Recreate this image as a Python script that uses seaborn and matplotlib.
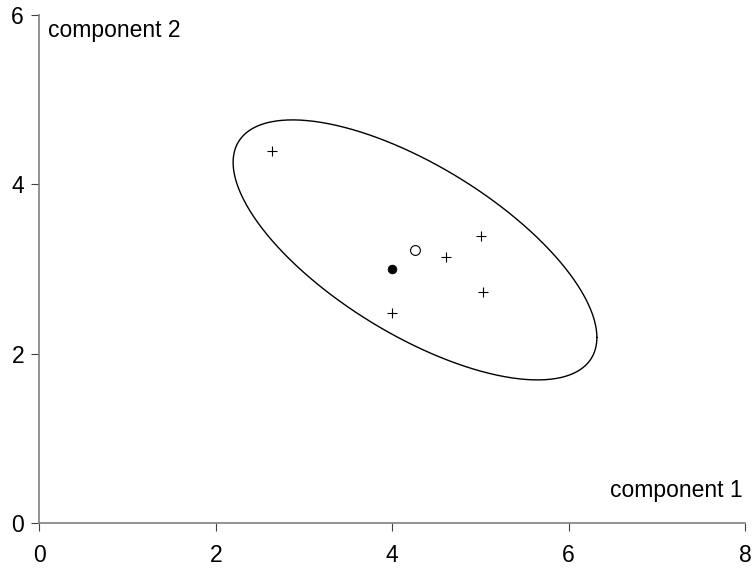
import numpy as np
import pandas as pd
import matplotlib
matplotlib.use("Agg")
import matplotlib.pyplot as plt
import seaborn as sns

# observations (component 1, component 2)
comp1 = [2.635, 5.008, 4.615, 5.034, 4.002]
comp2 = [4.393, 3.386, 3.135, 2.728, 2.473]

# hypothesised centre (filled dot)
target = (4.0, 3.0)

# squared radius of the ellipse, in units of the sample covariance
ellipse_k = 4.26

x_ticks = [0, 2, 4, 6, 8]
y_ticks = [0, 2, 4, 6]

sns.set_style("ticks")
plt.rcParams["font.family"] = ["Liberation Sans", "DejaVu Sans"]
plt.rcParams["text.color"] = "black"

df = pd.DataFrame({"component 1": comp1, "component 2": comp2})
mean = df.mean().values
cov = np.cov(df.values.T, ddof=1)

# ellipse outline from mean + covariance
t = np.linspace(0, 2 * np.pi, 400)
L = np.linalg.cholesky(ellipse_k * cov)
circle = np.vstack([np.cos(t), np.sin(t)])
ell = (L @ circle).T + mean
df_ell = pd.DataFrame({"x": ell[:, 0], "y": ell[:, 1]})

fig = plt.figure(figsize=(7.52, 5.71), dpi=100)
ax = fig.add_axes([0.0523, 0.0841, 0.9384, 0.8903])

sns.lineplot(data=df_ell, x="x", y="y", sort=False, estimator=None,
             color="black", linewidth=1.0, ax=ax)
sns.scatterplot(data=df, x="component 1", y="component 2", marker="+",
                color="black", s=60, linewidth=0.8, ax=ax)
sns.scatterplot(x=[mean[0]], y=[mean[1]], marker="o", facecolor="white",
                edgecolor="black", s=50, linewidth=0.8, ax=ax)
sns.scatterplot(x=[target[0]], y=[target[1]], marker="o", color="black",
                edgecolor="black", s=40, ax=ax)

ax.set_xlim(0, 8)
ax.set_ylim(0, 6)
ax.set_xticks(x_ticks)
ax.set_yticks(y_ticks)
ax.set_xlabel("")
ax.set_ylabel("")
sns.despine(ax=ax)
for side in ["left", "bottom"]:
    ax.spines[side].set_color("#808080")
    ax.spines[side].set_linewidth(1.2)
ax.tick_params(axis="both", length=6, width=0.8, color="#404040",
               labelsize=16.5, labelcolor="black")
ax.tick_params(axis="x", pad=9)
ax.tick_params(axis="y", pad=5)

ax.text(0.0123, 0.9565, "component 2", transform=ax.transAxes,
        ha="left", va="baseline", fontsize=16.5, color="black")
ax.text(0.9972, 0.0517, "component 1", transform=ax.transAxes,
        ha="right", va="baseline", fontsize=16.5, color="black")

fig.savefig("out.png", dpi=100)
